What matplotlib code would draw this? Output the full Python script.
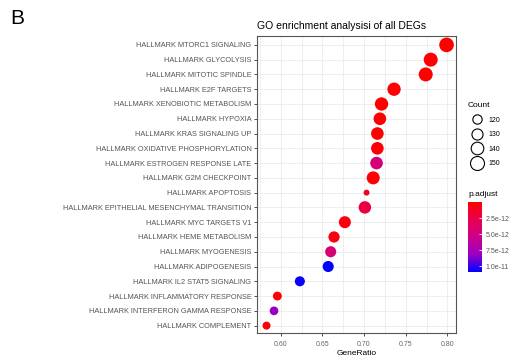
import matplotlib
matplotlib.use("Agg")
import matplotlib.pyplot as plt
import numpy as np
from matplotlib.colors import LinearSegmentedColormap, Normalize
from matplotlib.lines import Line2D

plt.rcParams['font.family'] = ['Liberation Sans', 'DejaVu Sans']

# hallmark gene sets, top row first
terms = [
    'HALLMARK MTORC1 SIGNALING',
    'HALLMARK GLYCOLYSIS',
    'HALLMARK MITOTIC SPINDLE',
    'HALLMARK E2F TARGETS',
    'HALLMARK XENOBIOTIC METABOLISM',
    'HALLMARK HYPOXIA',
    'HALLMARK KRAS SIGNALING UP',
    'HALLMARK OXIDATIVE PHOSPHORYLATION',
    'HALLMARK ESTROGEN RESPONSE LATE',
    'HALLMARK G2M CHECKPOINT',
    'HALLMARK APOPTOSIS',
    'HALLMARK EPITHELIAL MESENCHYMAL TRANSITION',
    'HALLMARK MYC TARGETS V1',
    'HALLMARK HEME METABOLISM',
    'HALLMARK MYOGENESIS',
    'HALLMARK ADIPOGENESIS',
    'HALLMARK IL2 STAT5 SIGNALING',
    'HALLMARK INFLAMMATORY RESPONSE',
    'HALLMARK INTERFERON GAMMA RESPONSE',
    'HALLMARK COMPLEMENT',
]
gene_ratio = [0.799, 0.780, 0.774, 0.736, 0.721, 0.719, 0.716, 0.716, 0.715, 0.711,
              0.703, 0.701, 0.677, 0.664, 0.660, 0.657, 0.623, 0.596, 0.592, 0.583]
counts = [155, 150, 150, 145, 145, 140, 140, 140, 140, 143,
          106, 139, 136, 131, 130, 130, 124, 118, 117, 114]
p_adjust = [1e-15, 2e-14, 3e-14, 5e-14, 8e-14, 1e-13, 1.2e-13, 1.5e-13, 4.6e-12, 2e-13,
            1.4e-12, 2.4e-12, 4e-13, 5e-13, 4.4e-12, 1.09e-11, 1.07e-11, 2e-13, 8.2e-12, 3e-13]

size_breaks = [120, 130, 140, 150]
padj_ticks = [2.5e-12, 5.0e-12, 7.5e-12, 1.0e-11]
padj_labels = ['2.5e-12', '5.0e-12', '7.5e-12', '1.0e-11']

# red -> blue through magenta, like ggplot's gradient
cmap = LinearSegmentedColormap.from_list(
    'padj', ['#FF0000', '#E8004F', '#CC0089', '#9A00C3', '#0000FF'])
norm = Normalize(vmin=min(p_adjust), vmax=max(p_adjust))


def count_to_area(c):
    # dot diameter^2 grows linearly with count (pt^2)
    return 44.8 + (np.asarray(c, dtype=float) - 120) * 1.89


fig = plt.figure(figsize=(5.13, 3.59), dpi=100)
ax = fig.add_axes([0.501, 0.0724, 0.388, 0.8273])

ypos = np.arange(len(terms))[::-1]
ax.scatter(gene_ratio, ypos, s=count_to_area(counts), c=p_adjust, cmap=cmap, norm=norm,
           edgecolors='none', zorder=3)

ax.set_xlim(0.5716, 0.8104)
ax.set_ylim(-0.5, len(terms) - 0.4)
ax.set_xticks([0.60, 0.65, 0.70, 0.75, 0.80])
ax.set_xticks([0.575, 0.625, 0.675, 0.725, 0.775], minor=True)
ax.set_xticklabels(['0.60', '0.65', '0.70', '0.75', '0.80'])
ax.set_yticks(ypos)
ax.set_yticklabels(terms)
ax.grid(True, which='major', color='#EBEBEB', linewidth=0.6, zorder=0)
ax.grid(True, which='minor', axis='x', color='#EBEBEB', linewidth=0.6, zorder=0)
ax.set_axisbelow(True)
ax.tick_params(axis='both', which='major', colors='#333333', labelcolor='#555555',
               length=2.5, width=0.6)
ax.tick_params(axis='y', labelsize=5.3, pad=1.5)
ax.tick_params(axis='x', labelsize=5, pad=3.5, labelcolor='#666666')
ax.tick_params(axis='x', which='minor', length=0)
for sp in ax.spines.values():
    sp.set_color('#555555')
    sp.set_linewidth(0.8)
ax.set_xlabel('GeneRatio', fontsize=6, labelpad=1.5)
ax.set_title('GO enrichment analysisi of all DEGs', fontsize=7.5, loc='left', pad=5)

fig.text(0.02, 0.975, 'B', fontsize=15, va='top', ha='left')

# size legend
handles = [Line2D([], [], linestyle='none', marker='o', markerfacecolor='white',
                  markeredgecolor='black', markeredgewidth=0.8,
                  markersize=np.sqrt(count_to_area(b))) for b in size_breaks]
leg = fig.legend(handles, [str(b) for b in size_breaks], title='Count',
                 loc='upper left', bbox_to_anchor=(0.905, 0.725), frameon=False,
                 fontsize=5, title_fontsize=6, labelspacing=1.08, handletextpad=0.35,
                 handlelength=2.6, borderpad=0)
leg._legend_box.align = 'left'

# colour bar for p.adjust, small values on top
cax = fig.add_axes([468 / 513, 1 - 272 / 359, 14 / 513, 70 / 359])
sm = plt.cm.ScalarMappable(norm=norm, cmap=cmap)
cb = fig.colorbar(sm, cax=cax, ticks=padj_ticks)
cb.set_ticklabels(padj_labels)
cb.outline.set_visible(False)
cax.invert_yaxis()
cax.tick_params(length=2.5, width=0.6, color='white', labelsize=5, labelcolor='#555555',
                direction='in', pad=2.5)
cax.set_title('p.adjust', fontsize=6, loc='left', pad=4)

fig.savefig('out.png', dpi=100)
